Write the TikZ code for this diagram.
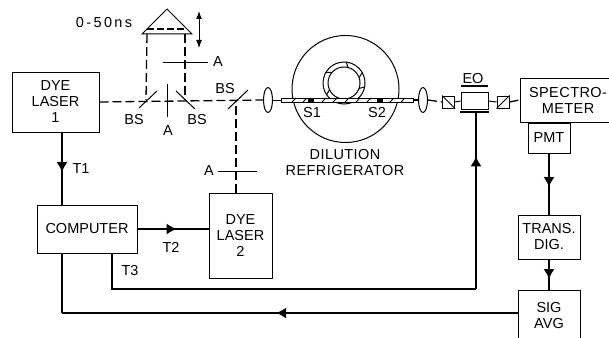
\documentclass[tikz,border=0pt]{standalone}
\usepackage{fontspec}
\setmainfont{Liberation Sans}
\usetikzlibrary{positioning,shapes.geometric,arrows.meta,decorations.markings}

\tikzset{
  boxnode/.style={draw, line width=1pt, inner sep=0pt, align=center, font=\fontsize{14.5}{16}\selectfont},
  lbl/.style={inner sep=0pt, font=\fontsize{14.5}{16}\selectfont},
  lens/.style={draw, ellipse, line width=1pt, inner sep=0pt, minimum width=9pt, minimum height=25pt},
  polar/.style={draw, line width=1pt, inner sep=0pt, minimum width=12pt, minimum height=12pt},
  beam/.style={line width=1.3pt, dash pattern=on 9pt off 4pt},
  sig/.style={line width=1.6pt},
  thin_part/.style={line width=1pt},
  arrowat/.style={postaction={decorate}, decoration={markings, mark=at position #1 with {\arrow{Latex[length=10pt,width=11pt]}}}}
}

\begin{document}
\begin{tikzpicture}[x=1pt,y=-1pt]
\useasboundingbox (0,0) rectangle (609,337);

% boxes
\node [boxnode, minimum width=87pt, minimum height=60pt] (laser_a) at (55.5,102) {DYE\\LASER\\1};
\node [boxnode, minimum width=100pt, minimum height=48pt] (computer) at (87,229) {COMPUTER};
\node [boxnode, minimum width=63pt, minimum height=85pt, right=71pt of computer.east, yshift=-6.5pt] (laser_b) {DYE\\LASER\\2};
\node [boxnode, minimum width=96pt, minimum height=44pt, font=\fontsize{14.5}{16}\selectfont\addfontfeature{LetterSpace=3}] (spectro) at (568,100) {SPECTRO-\\METER};
\node [boxnode, minimum width=42pt, minimum height=30pt, anchor=north] (pmt) at ([xshift=-19pt]spectro.south) {PMT};
\node [boxnode, minimum width=62pt, minimum height=44pt, anchor=north] (trans) at ([yshift=-61pt]pmt.south) {TRANS.\\DIG.};
\node [boxnode, minimum width=62pt, minimum height=51pt, anchor=north] (avg) at ([yshift=-30pt]trans.south) {SIG\\AVG};

% optics on the beam line
\node [lens] (lens_a) at (268,100) {};
\node [lens] (lens_b) at (423,100) {};
\node [polar] (pol_a) at (448.5,102) {};
\node [draw, line width=1pt, inner sep=0pt, minimum width=27pt, minimum height=17pt] (eo) at (474.5,101) {};
\node [polar] (pol_b) at (503,102) {};
\draw [thin_part] (pol_a.north west) -- (pol_a.south east);
\draw [thin_part] (pol_b.south west) -- (pol_b.north east);

\coordinate (bs_a) at (146,100);
\coordinate (bs_b) at (185,100);
\coordinate (bs_c) at (236,100);
\coordinate (roof_a) at (147,34);
\coordinate (roof_b) at (185,34);
\coordinate (fibre_in) at (281,100);
\coordinate (fibre_out) at (413,100);

% delay line
\draw [thin_part, line join=miter] (142,34) -- (167,9) -- (192,34) -- cycle;
\draw [beam, dash pattern=on 7pt off 3pt] (147,29) -- (187,29);
\draw [{Latex[length=8pt,width=6pt]}-{Latex[length=8pt,width=6pt]}, line width=1pt] (199,11) -- (199,48);
\node [lbl, font=\fontsize{14.5}{16}\selectfont\addfontfeature{LetterSpace=16}] (delay) at (104,23) {0\,-\,50ns};

% beams
\draw [beam] (laser_a.east) -- (lens_a.west);
\draw [beam] (roof_a) -- (bs_a);
\draw [beam] (roof_b) -- (bs_b);
\draw [beam] (laser_b.north -| bs_c) -- (bs_c);
\draw [thin_part] (lens_a.east) -- (fibre_in);
\draw [beam] (fibre_out) -- (lens_b.west);
\draw [beam] (lens_b.east) -- (pol_a.west);
\draw [thin_part] (pol_a.east) -- (eo.west);
\draw [thin_part] (eo.east) -- (pol_b.west);
\draw [beam] (pol_b.east) -- (spectro.west);

% beam splitters and apertures
\draw [thin_part] (139,108) -- (157,91);
\draw [thin_part] (176,91) -- (195,109);
\draw [thin_part] (228,109) -- (248,90);
\draw [thin_part] (167,84) -- (167,117);
\draw [thin_part] (163,62) -- (208,62);
\draw [thin_part] (218,171) -- (257,171);
\node [lbl] (bs_a_lbl) at (134,120) {BS};
\node [lbl] (bs_b_lbl) at (197,120) {BS};
\node [lbl] (bs_c_lbl) at (225,89) {BS};
\node [lbl] (ap_a_lbl) at (168,131) {A};
\node [lbl] (ap_b_lbl) at (218,62) {A};
\node [lbl] (ap_c_lbl) at (209,171) {A};

% refrigerator
\node [draw, circle, line width=1pt, minimum size=107pt, inner sep=0pt] (fridge) at (345.5,89) {};
\draw [line width=1pt, fill=white] (344,83) circle (21pt);
\draw [line width=1pt] (344,83) circle (16pt);
\foreach \a in {20,75,140,205,285,340} {
  \draw [line width=1pt] (344,83) ++(\a:16pt) -- ++(\a+35:6pt);
}
\draw [line width=1pt, fill=white] (fibre_in) ++(0,-2) rectangle (413,102);
\foreach \x in {292,303,322,333,345,356,367,390,401} {
  \draw [line width=1pt] (\x,102) -- (\x+4,98);
}
\fill (308,98) rectangle (314,102);
\fill (377,98) rectangle (383,102);
\node [lbl] (s_a) at (312,113) {S1};
\node [lbl] (s_b) at (377,113) {S2};
\node [lbl, align=center, font=\fontsize{14.5}{16}\selectfont\addfontfeature{LetterSpace=3}] (fridge_lbl) at (345,163) {DILUTION\\REFRIGERATOR};

% modulator
\draw [line width=1.4pt] (461,86) -- (488,86);
\draw [line width=1.4pt] (460,112) -- (489,112);
\node [lbl] (eo_lbl) at (473,79) {EO};

% signal lines
\coordinate (t_a) at (laser_a.south -| 62,0);
\draw [sig, arrowat=0.55] (t_a) -- (t_a |- computer.north);
\draw [sig, arrowat=0.55] (computer.east) -- (computer.east -| laser_b.west);
\draw [sig] (computer.south -| 112,0) -- (112,289) -- (476,289) coordinate (t_c);
\draw [sig, arrowat=0.75] (t_c) -- (476,112);
\draw [sig, arrowat=0.55] (pmt.south) -- (trans.north);
\draw [sig, arrowat=0.65] (trans.south) -- (avg.north);
\draw [sig, arrowat=0.53] (avg.west |- 0,313) -- (62,313);
\draw [sig] (62,313) -- (computer.south -| 62,0);
\node [lbl] (t_a_lbl) at (81,169) {T1};
\node [lbl] (t_b_lbl) at (171,247) {T2};
\node [lbl] (t_c_lbl) at (130,271) {T3};

\end{tikzpicture}
\end{document}
